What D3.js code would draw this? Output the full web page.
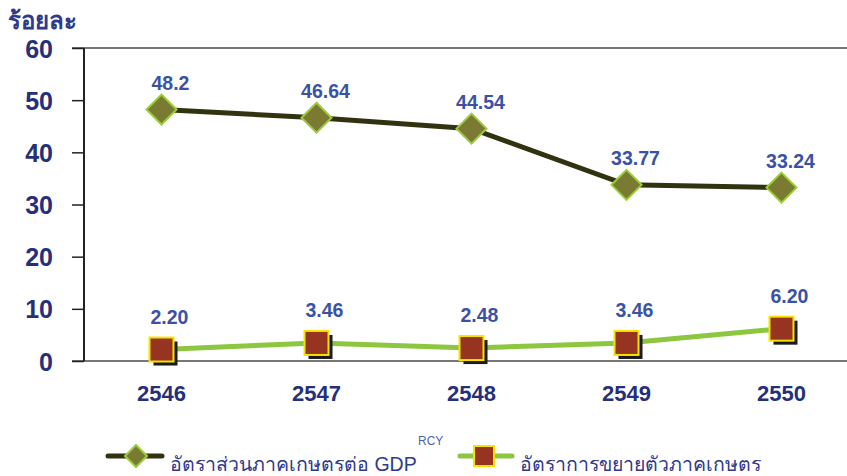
<!DOCTYPE html>
<html>
<head>
<meta charset="utf-8">
<script src="https://cdn.jsdelivr.net/npm/d3@7"></script>
<style>
body { margin: 0; background: white; }
text { font-family: "Liberation Sans", Arial, sans-serif; }
</style>
</head>
<body>
<svg id="chart" width="847" height="476"></svg>
<script>
var years = ["2546", "2547", "2548", "2549", "2550"];
var gdpShare = [48.2, 46.64, 44.54, 33.77, 33.24];
var gdpLabels = ["48.2", "46.64", "44.54", "33.77", "33.24"];
var growth = [2.20, 3.46, 2.48, 3.46, 6.20];
var growthLabels = ["2.20", "3.46", "2.48", "3.46", "6.20"];
var yTicks = [0, 10, 20, 30, 40, 50, 60];
var legendNames = ["อัตราส่วนภาคเกษตรต่อ GDP", "อัตราการขยายตัวภาคเกษตร"];

var svg = d3.select("#chart");
var navy = "#262f7a";
var labelBlue = "#3a52a6";

var x = d3.scaleBand().domain(years).range([84, 859]);
var y = d3.scaleLinear().domain([0, 60]).range([361, 48]);
function cx(i) { return x(years[i]) + x.bandwidth() / 2; }

// axes
svg.append("line").attr("x1", 72).attr("x2", 847).attr("y1", y(60)).attr("y2", y(60))
	.attr("stroke", "#777").attr("stroke-width", 2);
svg.append("line").attr("x1", 72).attr("x2", 847).attr("y1", y(0)).attr("y2", y(0))
	.attr("stroke", "#777").attr("stroke-width", 2);
svg.append("line").attr("x1", 84).attr("x2", 84).attr("y1", y(60)).attr("y2", y(0))
	.attr("stroke", "#222").attr("stroke-width", 2);

var yAxis = svg.append("g").attr("transform", "translate(84,0)")
	.call(d3.axisLeft(y).tickValues(yTicks).tickSize(12).tickPadding(19));
yAxis.select(".domain").remove();
yAxis.selectAll("line").attr("stroke", "#222").attr("stroke-width", 1.5);
yAxis.selectAll("text").style("font-size", "25px").style("font-weight", "bold")
	.attr("fill", navy).attr("dy", "0.36em");

var xAxis = svg.append("g").attr("transform", "translate(0,361)")
	.call(d3.axisBottom(x).tickSize(0).tickPadding(0));
xAxis.select(".domain").remove();
xAxis.selectAll("text").style("font-size", "22px").style("font-weight", "bold")
	.attr("fill", navy).attr("dy", 0).attr("y", 40);

svg.append("text").attr("x", 8).attr("y", 29).text("ร้อยละ")
	.style("font-size", "24px").style("font-weight", "bold").attr("fill", "#2e3a8c");

// lines
var line1 = d3.line().x(function (d, i) { return cx(i); }).y(function (d) { return y(d); });
svg.append("path").datum(gdpShare).attr("d", line1)
	.attr("fill", "none").attr("stroke", "#31320f").attr("stroke-width", 5);
svg.append("path").datum(growth).attr("d", line1)
	.attr("fill", "none").attr("stroke", "#8dc63f").attr("stroke-width", 5);

// markers
function diamond(g, px, py, s) {
	g.append("path")
		.attr("d", "M" + px + "," + (py - s) + "L" + (px + s) + "," + py + "L" + px + "," + (py + s) + "L" + (px - s) + "," + py + "Z")
		.attr("fill", "#7b7a33").attr("stroke", "#9ccc3c").attr("stroke-width", 2);
}
function square(g, px, py, s) {
	g.append("rect").attr("x", px - s + 4).attr("y", py - s + 4).attr("width", 2 * s).attr("height", 2 * s)
		.attr("fill", "#1a1a1a");
	g.append("rect").attr("x", px - s).attr("y", py - s).attr("width", 2 * s).attr("height", 2 * s)
		.attr("fill", "#973321").attr("stroke", "#f5e400").attr("stroke-width", 2);
}

var marks = svg.append("g");
gdpShare.forEach(function (d, i) { diamond(marks, cx(i), y(d), 15); });
growth.forEach(function (d, i) { square(marks, cx(i), y(d), 12); });

// value labels
svg.selectAll(".lab1").data(gdpShare).enter().append("text")
	.attr("x", function (d, i) { return cx(i) + 9; })
	.attr("y", function (d) { return y(d) - 20; })
	.attr("text-anchor", "middle")
	.text(function (d, i) { return gdpLabels[i]; })
	.style("font-size", "19.5px").style("font-weight", "bold").attr("fill", labelBlue);
svg.selectAll(".lab2").data(growth).enter().append("text")
	.attr("x", function (d, i) { return cx(i) + 8; })
	.attr("y", function (d) { return y(d) - 26; })
	.attr("text-anchor", "middle")
	.text(function (d, i) { return growthLabels[i]; })
	.style("font-size", "19.5px").style("font-weight", "bold").attr("fill", labelBlue);

// legend
var lg = svg.append("g");
lg.append("line").attr("x1", 108).attr("x2", 162).attr("y1", 456).attr("y2", 456)
	.attr("stroke", "#31320f").attr("stroke-width", 5).attr("stroke-linecap", "round");
diamond(lg, 136, 456, 11);
lg.append("text").attr("x", 170).attr("y", 471).text(legendNames[0])
	.style("font-size", "19.5px").attr("fill", "#2e3a8c");
lg.append("text").attr("x", 418).attr("y", 445).text("RCY")
	.style("font-size", "12px").attr("fill", "#5262a8");
lg.append("line").attr("x1", 460).attr("x2", 512).attr("y1", 456).attr("y2", 456)
	.attr("stroke", "#8dc63f").attr("stroke-width", 5).attr("stroke-linecap", "round");
lg.append("rect").attr("x", 474).attr("y", 446).attr("width", 20).attr("height", 20)
	.attr("fill", "#973321").attr("stroke", "#f5e400").attr("stroke-width", 2);
lg.append("text").attr("x", 520).attr("y", 471).text(legendNames[1])
	.style("font-size", "19.5px").attr("fill", "#2e3a8c");
</script>
</body>
</html>
